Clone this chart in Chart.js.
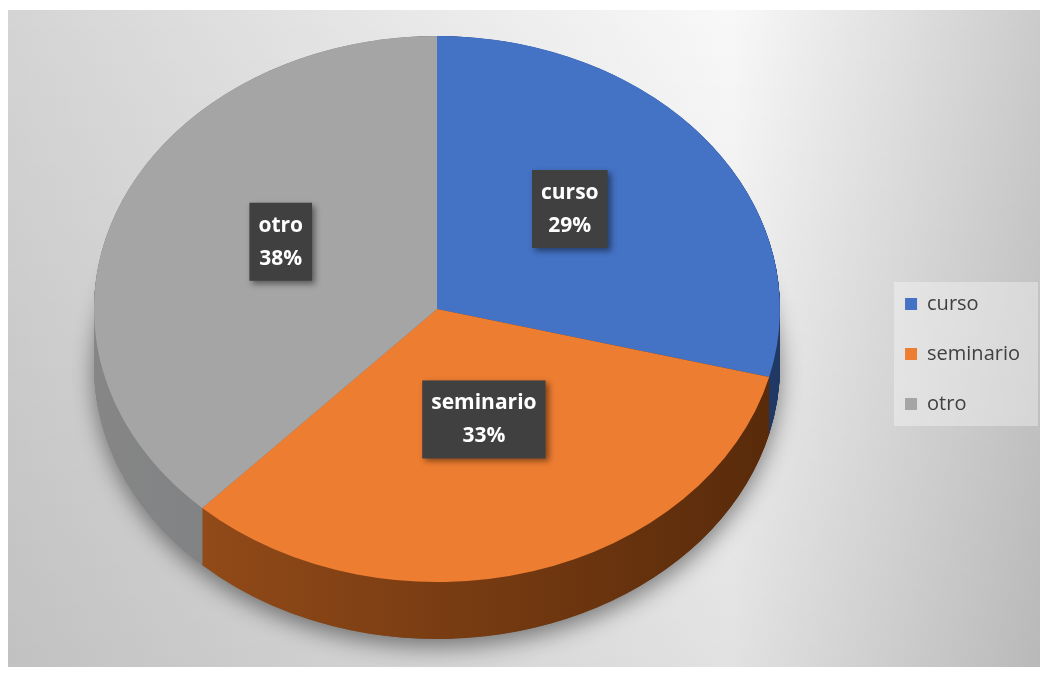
<!DOCTYPE html>
<html>
<head>
<meta charset="utf-8">
<script src="https://cdn.jsdelivr.net/npm/chart.js@4.4.1/dist/chart.umd.min.js"></script>
<style>
  html, body { margin: 0; padding: 0; background: #fff; }
  #wrap { width: 1046px; height: 678px; }
</style>
</head>
<body>
<div id="wrap"><canvas id="pieChart" width="1046" height="678"></canvas></div>
<script>
// data
const categories = ['curso', 'seminario', 'otro'];
const percentages = [29, 33, 38];
const topColors = ['#4472c4', '#ed7d31', '#a5a5a5'];
const sideLight = ['#2f5597', '#9c501b', '#868686'];
const sideDark = ['#1f3864', '#582a0a', '#66707a'];

// where the tilted pie sits on the page
const PIE_CX = 437, PIE_CY = 309, PIE_RX = 343, PIE_RY = 273, PIE_DEPTH = 57;

function tiltPie(ctx, arc) {
  ctx.translate(PIE_CX, PIE_CY);
  ctx.scale(PIE_RX / arc.outerRadius, PIE_RY / arc.outerRadius);
  ctx.translate(-arc.x, -arc.y);
}

const backgroundPlugin = {
  id: 'bg',
  beforeDraw(chart) {
    const ctx = chart.ctx;
    ctx.save();
    ctx.fillStyle = '#ffffff';
    ctx.fillRect(0, 0, chart.width, chart.height);
    const g = ctx.createLinearGradient(8, 0, 1040, 0);
    g.addColorStop(0, '#d4d4d4');
    g.addColorStop(0.7, '#f8f8f8');
    g.addColorStop(1, '#cbcbcb');
    ctx.fillStyle = g;
    ctx.fillRect(8, 10, 1032, 657);
    const v = ctx.createLinearGradient(0, 10, 0, 667);
    v.addColorStop(0, 'rgba(0,0,0,0)');
    v.addColorStop(1, 'rgba(0,0,0,0.09)');
    ctx.fillStyle = v;
    ctx.fillRect(8, 10, 1032, 657);

    // legend panel
    const lg = chart.legend;
    if (lg && lg.legendHitBoxes && lg.legendHitBoxes.length) {
      const hb = lg.legendHitBoxes;
      const bx = hb[0].left - 11;
      const by = hb[0].top - 12;
      const last = hb[hb.length - 1];
      ctx.fillStyle = 'rgba(255,255,255,0.35)';
      ctx.fillRect(bx, by, lg.right + 8 - bx, last.top + last.height + 12 - by);
    }
    ctx.restore();
  }
};

const pie3dPlugin = {
  id: 'pie3d',
  beforeDatasetsDraw(chart) {
    const arcs = chart.getDatasetMeta(0).data;
    const a0 = arcs[0];
    const ctx = chart.ctx;
    const depth = PIE_DEPTH / (PIE_RY / a0.outerRadius);
    const R = a0.outerRadius;

    ctx.save();
    tiltPie(ctx, a0);
    // soft shadow under the pie
    ctx.save();
    ctx.shadowColor = 'rgba(0,0,0,0.45)';
    ctx.shadowBlur = 22;
    ctx.shadowOffsetY = 8;
    ctx.fillStyle = '#777';
    ctx.beginPath();
    ctx.arc(a0.x, a0.y + depth, R, 0, Math.PI * 2);
    ctx.fill();
    ctx.restore();

    // side walls, stacked from the bottom up
    const fills = arcs.map((arc, i) => {
      const g = ctx.createLinearGradient(arc.x - R, 0, arc.x + R, 0);
      g.addColorStop(0, sideLight[i]);
      g.addColorStop(1, sideDark[i]);
      return g;
    });
    for (let s = depth; s >= 0; s -= 0.5) {
      arcs.forEach((arc, i) => {
        ctx.fillStyle = fills[i];
        ctx.beginPath();
        ctx.moveTo(arc.x, arc.y + s);
        ctx.arc(arc.x, arc.y + s, arc.outerRadius, arc.startAngle, arc.endAngle);
        ctx.closePath();
        ctx.fill();
      });
    }
    ctx.restore();

    // the top face is the normal pie, squashed the same way
    ctx.save();
    tiltPie(ctx, a0);
  },
  afterDatasetsDraw(chart) {
    const ctx = chart.ctx;
    ctx.restore();

    const arcs = chart.getDatasetMeta(0).data;
    ctx.save();
    ctx.font = 'bold 21px "Open Sans"';
    ctx.textAlign = 'center';
    ctx.textBaseline = 'middle';
    arcs.forEach((arc, i) => {
      const mid = (arc.startAngle + arc.endAngle) / 2;
      const f = 0.49;
      const x = PIE_CX + Math.cos(mid) * PIE_RX * f;
      const y = PIE_CY - 18 + Math.sin(mid) * PIE_RY * f;
      const l1 = categories[i];
      const l2 = percentages[i] + '%';
      const w = Math.max(ctx.measureText(l1).width, ctx.measureText(l2).width) + 18;
      const h = 78;
      ctx.save();
      ctx.shadowColor = 'rgba(0,0,0,0.45)';
      ctx.shadowBlur = 6;
      ctx.shadowOffsetX = 3;
      ctx.shadowOffsetY = 3;
      ctx.fillStyle = '#404040';
      ctx.fillRect(x - w / 2, y - h / 2, w, h);
      ctx.restore();
      ctx.fillStyle = '#ffffff';
      ctx.fillText(l1, x, y - 16);
      ctx.fillText(l2, x, y + 17);
    });
    ctx.restore();
  }
};

new Chart(document.getElementById('pieChart'), {
  type: 'pie',
  data: {
    labels: categories,
    datasets: [{
      data: percentages,
      backgroundColor: topColors,
      borderWidth: 0
    }]
  },
  options: {
    responsive: false,
    animation: false,
    events: [],
    layout: { padding: { top: 30, right: 16, bottom: 0, left: 10 } },
    plugins: {
      legend: {
        position: 'right',
        align: 'center',
        labels: {
          boxWidth: 12,
          boxHeight: 12,
          padding: 30,
          color: '#404040',
          font: { family: '"Open Sans"', size: 20 }
        }
      },
      tooltip: { enabled: false }
    }
  },
  plugins: [backgroundPlugin, pie3dPlugin]
});
</script>
</body>
</html>
